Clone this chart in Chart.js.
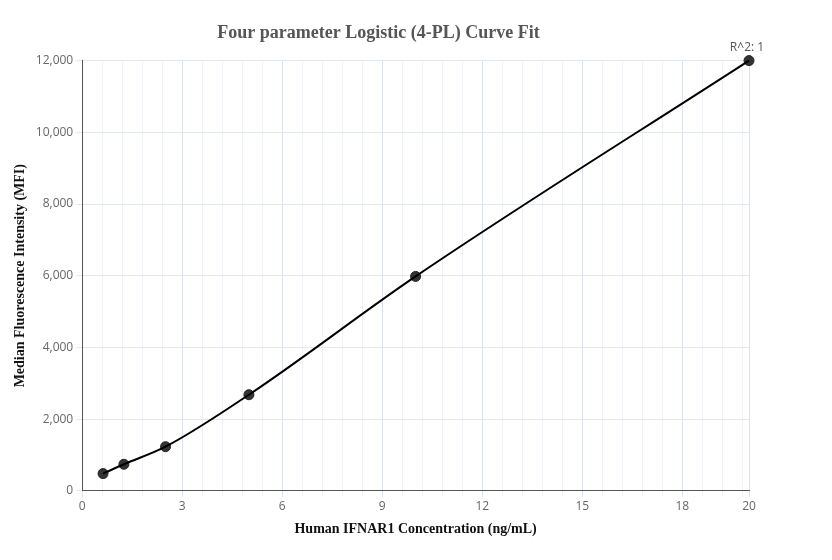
<!DOCTYPE html>
<html>
<head>
<script src="https://cdn.jsdelivr.net/npm/chart.js@4"></script>
<style>
body { margin: 0; background: #fff; }
#wrap { width: 832px; height: 560px; }
</style>
</head>
<body>
<div id="wrap"><canvas id="grafico"></canvas></div>
<script>
const concentraciones = [0.625, 1.25, 2.5, 5, 10, 20];
const intensidades = [480, 740, 1230, 2680, 5980, 12000];
const etiquetasX = [0, 3, 6, 9, 12, 15, 18, 20];
const etiquetaR2 = 'R^2: 1';

const puntos = concentraciones.map((c, i) => ({x: c, y: intensidades[i]}));

const esEtiqueta = v => etiquetasX.some(e => Math.abs(e - v) < 1e-6);

// texto R^2 encima del ultimo punto
const textoR2 = {
    id: 'textoR2',
    afterDatasetsDraw(chart) {
        const meta = chart.getDatasetMeta(1);
        const p = meta.data[meta.data.length - 1];
        const c = chart.ctx;
        c.save();
        c.font = '12px "Open Sans"';
        c.fillStyle = '#555';
        c.textAlign = 'center';
        c.fillText(etiquetaR2, p.x - 2, p.y - 10);
        c.restore();
    }
};

new Chart(document.getElementById('grafico'), {
    type: 'scatter',
    data: {
        datasets: [{
            type: 'line',
            data: puntos,
            borderColor: '#000',
            borderWidth: 2,
            pointRadius: 0,
            cubicInterpolationMode: 'monotone',
            fill: false,
            clip: false
        }, {
            data: puntos,
            backgroundColor: '#333',
            borderColor: '#222',
            pointRadius: 5,
            clip: false
        }]
    },
    options: {
        responsive: true,
        maintainAspectRatio: false,
        animation: false,
        layout: {padding: {left: 8, right: 83, top: 13, bottom: 18}},
        plugins: {
            legend: {display: false},
            tooltip: {enabled: false},
            title: {
                display: true,
                text: 'Four parameter Logistic (4-PL) Curve Fit',
                color: '#555',
                font: {family: 'Liberation Serif', size: 18, weight: 'bold'},
                padding: {top: 10, bottom: 16}
            }
        },
        scales: {
            x: {
                type: 'linear',
                min: 0, max: 20,
                ticks: {
                    autoSkip: false,
                    maxRotation: 0,
                    color: '#666',
                    font: {family: 'Open Sans', size: 12},
                    callback: v => (esEtiqueta(v) ? Math.round(v) : '')
                },
                afterBuildTicks: axis => {
                    const t = [];
                    for (let i = 0; i <= 33; i++) t.push({value: +(i * 0.6).toFixed(2)});
                    t.push({value: 20});
                    axis.ticks = t;
                },
                grid: {
                    color: ctx => (ctx.tick && esEtiqueta(ctx.tick.value)) ? '#dde3ec' : '#eef1f6',
                    tickLength: 6
                },
                border: {color: '#555'},
                title: {
                    display: true,
                    text: 'Human IFNAR1 Concentration (ng/mL)',
                    color: '#111',
                    font: {family: 'Liberation Serif', size: 14, weight: 'bold'}
                }
            },
            y: {
                min: 0, max: 12000,
                ticks: {
                    stepSize: 2000,
                    color: '#666',
                    font: {family: 'Open Sans', size: 12},
                    callback: v => v.toLocaleString('en-US')
                },
                grid: {color: '#e3e8ef', tickLength: 6},
                border: {color: '#555'},
                title: {
                    display: true,
                    text: 'Median Fluorescence Intensity (MFI)',
                    color: '#111',
                    font: {family: 'Liberation Serif', size: 14, weight: 'bold'}
                }
            }
        }
    },
    plugins: [textoR2]
});
</script>
</body>
</html>
